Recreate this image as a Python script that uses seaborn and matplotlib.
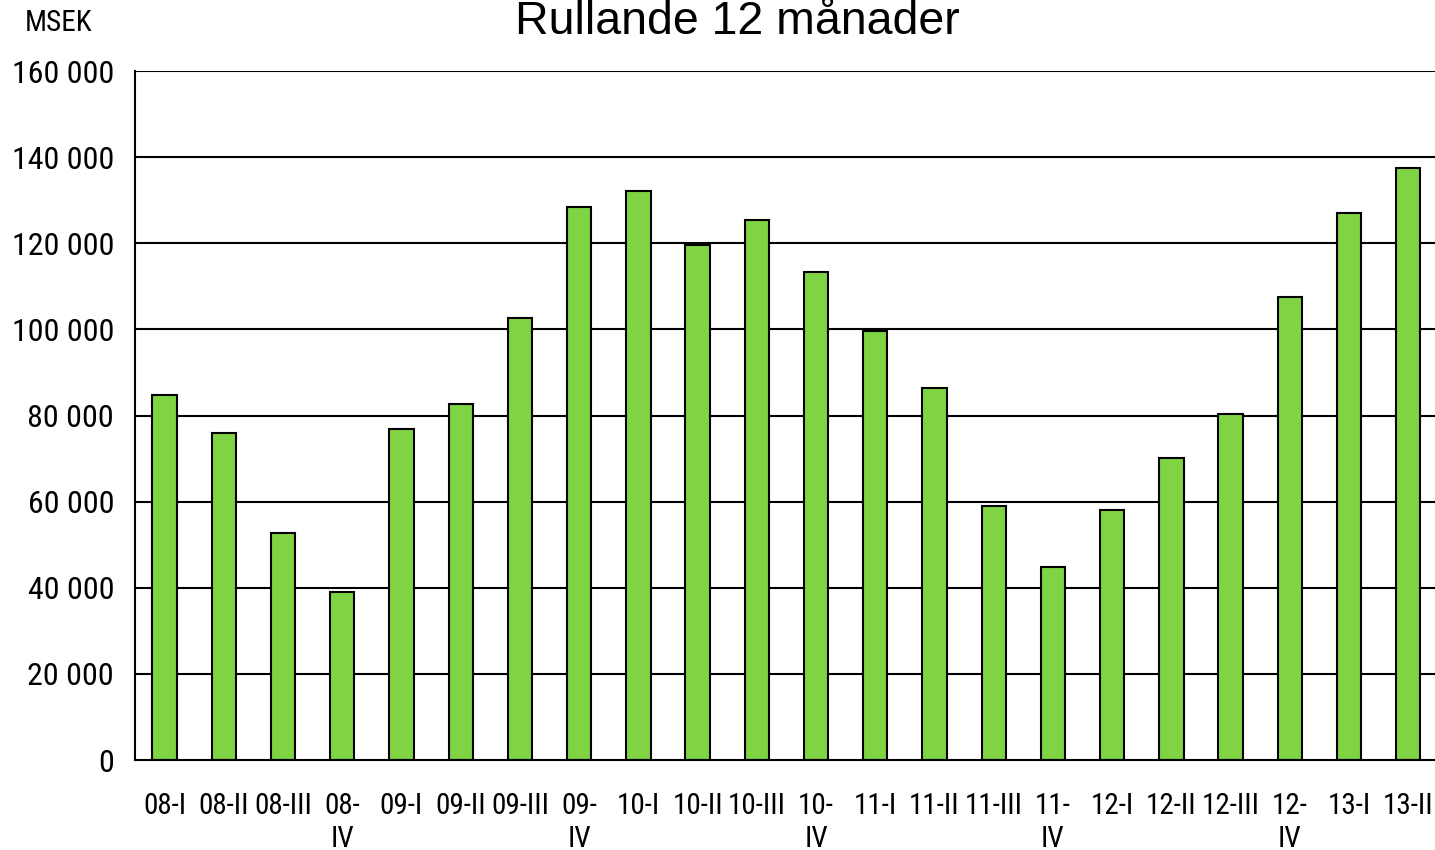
import numpy as np
import pandas as pd
import matplotlib
matplotlib.use("Agg")
import matplotlib.pyplot as plt
from matplotlib import font_manager
import seaborn as sns

quarters = ["08-I", "08-II", "08-III", "08-\nIV",
            "09-I", "09-II", "09-III", "09-\nIV",
            "10-I", "10-II", "10-III", "10-\nIV",
            "11-I", "11-II", "11-III", "11-\nIV",
            "12-I", "12-II", "12-III", "12-\nIV",
            "13-I", "13-II"]
msek = [84800, 75900, 52700, 39000,
        76900, 82700, 102600, 128400,
        132100, 119600, 125400, 113300,
        99600, 86400, 59000, 44800,
        58100, 70100, 80400, 107500,
        127000, 137500]
yticks = [0, 20000, 40000, 60000, 80000, 100000, 120000, 140000, 160000]

# narrow font if there is one, otherwise Roboto
names = {f.name for f in font_manager.fontManager.ttflist}
narrow = None
for cand in ["Liberation Sans Narrow", "Roboto Condensed", "Open Sans Condensed", "DejaVu Sans Condensed"]:
    if cand in names:
        narrow = cand
        break
if narrow is None:
    narrow = "Roboto"

sns.set_style("white")
plt.rcParams["font.family"] = [narrow, "DejaVu Sans"]
plt.rcParams["text.color"] = "black"
plt.rcParams["xtick.color"] = "black"
plt.rcParams["ytick.color"] = "black"

df = pd.DataFrame({"quarter": quarters, "msek": msek})

fig = plt.figure(figsize=(14.35, 8.5), dpi=100)
ax = fig.add_axes([135 / 1435, 1 - 760 / 850, 1 - 135 / 1435 + 0.002, (760 - 71) / 850])

# horizontal grid lines behind the bars
for v in yticks[1:]:
    ax.axhline(v, color="black", lw=1.5, zorder=0)

sns.barplot(data=df, x="quarter", y="msek", color="#80D444", saturation=1,
            edgecolor="black", linewidth=1.5, width=0.41, ax=ax, zorder=2)

lab_size = 20 if narrow == "Roboto" else 22
ax.set_xlim(-0.5, len(quarters) - 0.5)
ax.set_ylim(0, 160000)
ax.set_yticks(yticks)
ax.set_yticklabels([f"{v:,}".replace(",", " ") for v in yticks], fontsize=lab_size + 1)
ax.set_xticks(range(len(quarters)))
ax.set_xticklabels(quarters, fontsize=lab_size - 1, linespacing=1.22, va="top")
ax.set_xticks(np.arange(-0.5, len(quarters), 1), minor=True)
ax.tick_params(axis="x", which="major", length=0, pad=23)
ax.tick_params(axis="x", which="minor", length=9, width=1.5, color="black", direction="out")
ax.tick_params(axis="y", length=9, width=1.5, color="black", direction="out", pad=6)
ax.set_xlabel("")
ax.set_ylabel("")

for s in ["top", "right"]:
    ax.spines[s].set_visible(False)
for s in ["left", "bottom"]:
    ax.spines[s].set_color("black")
    ax.spines[s].set_linewidth(1.5)

fig.text(737 / 1435, 1 - 22 / 850, "Rullande 12 månader", ha="center", va="center",
         fontsize=33.5, family=["Liberation Sans", "DejaVu Sans"])
fig.text(25 / 1435, 1 - 23 / 850, "MSEK", ha="left", va="center", fontsize=lab_size - 1)

fig.savefig("out.png", dpi=100)
